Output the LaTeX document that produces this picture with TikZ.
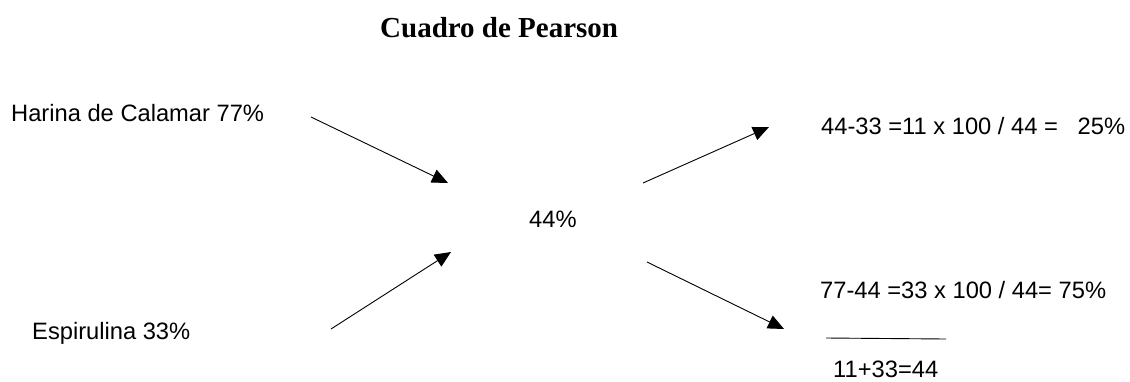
\documentclass[tikz,border=0pt]{standalone}
\usepackage{fontspec}
\setmainfont{Liberation Sans}
\newfontfamily\titlefont{Liberation Serif}
\usetikzlibrary{arrows.meta}
\tikzset{
  lbl/.style={anchor=base west, inner sep=0pt, font=\fontsize{23.7}{28}\selectfont},
  ttl/.style={anchor=base west, inner sep=0pt, font=\titlefont\bfseries\fontsize{29}{34}\selectfont},
  arr/.style={line width=0.9pt, -{Triangle[length=16pt,width=14pt]}},
  rule/.style={line width=0.9pt}
}
\begin{document}
\begin{tikzpicture}[x=1pt,y=-1pt]
\useasboundingbox (0,0) rectangle (1130,381);
\node[ttl] (title) at (380,37) {Cuadro de Pearson};
\node[lbl] (harina) at (11,121) {Harina de Calamar 77\%};
\node[lbl] (espir) at (32,339) {Espirulina 33\%};
\node[lbl] (mid) at (529,227) {44\%};
\node[lbl] (r1) at (821,134) {44-33 =11 x 100 / 44 =\ \ \ 25\%};
\node[lbl] (r2) at (820,298) {77-44 =33 x 100 / 44= 75\%};
\node[lbl] (sum) at (833,377) {11+33=44};
\coordinate (a1s) at (311,117);
\coordinate (a1e) at (448,183);
\coordinate (a2s) at (331,329);
\coordinate (a2e) at (451,252);
\coordinate (a3s) at (643,183);
\coordinate (a3e) at (769,127);
\coordinate (a4s) at (647,262);
\coordinate (a4e) at (784,329);
\coordinate (l1) at (826,338);
\coordinate (l2) at (946,339);
\draw[arr] (a1s) -- (a1e);
\draw[arr] (a2s) -- (a2e);
\draw[arr] (a3s) -- (a3e);
\draw[arr] (a4s) -- (a4e);
\draw[rule] (l1) -- (l2);
\end{tikzpicture}
\end{document}
